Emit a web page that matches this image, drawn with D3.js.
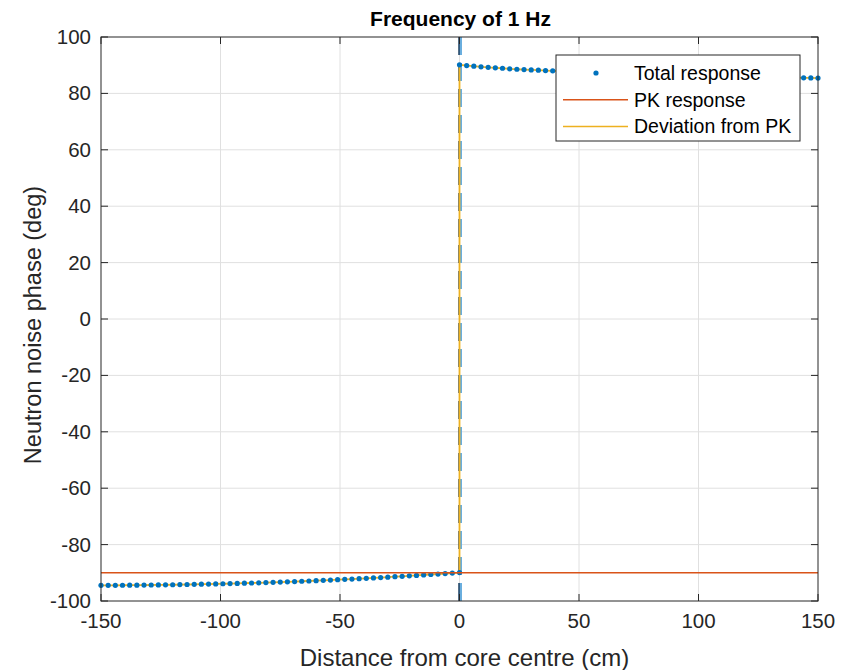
<!DOCTYPE html>
<html lang="en">
<head>
<meta charset="utf-8" />
<script src="https://cdn.jsdelivr.net/npm/d3@7"></script>
<style>
body { margin: 0; background: #fff; }
svg { font-family: "Liberation Sans", Arial, Helvetica, sans-serif; }
</style>
</head>
<body>
<svg id="chart" width="841" height="670"></svg>
<script>
// distance (cm) and phase (deg), left half of the core
var negX = [-150,-147,-144,-141,-138,-135,-132,-129,-126,-123,-120,-117,-114,-111,-108,-105,-102,-99,-96,-93,
  -90,-87,-84,-81,-78,-75,-72,-69,-66,-63,-60,-57,-54,-51,-48,-45,-42,-39,-36,-33,-30,-27,-24,-21,-18,-15,-12,-9,-6,-3,0];
var negPhase = [-94.45,-94.44,-94.43,-94.42,-94.40,-94.38,-94.36,-94.33,-94.30,-94.27,-94.23,-94.19,-94.15,-94.10,-94.05,-94.00,-93.95,-93.89,-93.83,-93.76,
  -93.69,-93.62,-93.54,-93.46,-93.38,-93.29,-93.20,-93.10,-93.00,-92.90,-92.79,-92.68,-92.57,-92.45,-92.33,-92.21,-92.08,-91.95,-91.82,-91.68,-91.54,-91.39,-91.24,-91.09,-90.93,-90.77,-90.61,-90.44,-90.27,-90.10,-89.93];

// right half of the core
var posX = [0,3,6,9,12,15,18,21,24,27,30,33,36,39,42,45,48,51,54,57,60,63,66,69,72,75,78,81,84,87,90,93,96,99,
  102,105,108,111,114,117,120,123,126,129,132,135,138,141,144,147,150];
var posPhase = [90.15,89.88,89.65,89.44,89.25,89.08,88.92,88.70,88.57,88.45,88.33,88.22,88.11,88.00,87.92,87.84,87.76,87.68,87.60,87.53,
  87.46,87.39,87.32,87.25,87.18,87.11,87.04,86.97,86.90,86.83,86.76,86.69,86.62,86.55,86.48,86.41,86.34,86.27,86.20,86.13,
  86.06,85.99,85.92,85.85,85.78,85.72,85.66,85.60,85.54,85.48,85.42];

// point kinetics response: constant phase
var pkX = [-150, 150];
var pkPhase = [-90, -90];

var xTicks = [-150, -100, -50, 0, 50, 100, 150];
var yTicks = [-100, -80, -60, -40, -20, 0, 20, 40, 60, 80, 100];
var legendNames = ["Total response", "PK response", "Deviation from PK"];

var svg = d3.select("#chart");
var pLeft = 101, pRight = 818, pTop = 37, pBottom = 601;

var x = d3.scaleLinear().domain([-150, 150]).range([pLeft, pRight]);
var y = d3.scaleLinear().domain([-100, 100]).range([pBottom, pTop]);

var blue = "#0072BD", orange = "#D95319", yellow = "#EDB120", axisCol = "#262626";

// grid
svg.append("g").selectAll("line").data(xTicks.slice(1, -1)).enter().append("line")
    .attr("x1", function(d) { return x(d); }).attr("x2", function(d) { return x(d); })
    .attr("y1", pTop).attr("y2", pBottom)
    .attr("stroke", "#e0e0e0").attr("stroke-width", 1);
svg.append("g").selectAll("line").data(yTicks.slice(1, -1)).enter().append("line")
    .attr("y1", function(d) { return y(d); }).attr("y2", function(d) { return y(d); })
    .attr("x1", pLeft).attr("x2", pRight)
    .attr("stroke", "#e0e0e0").attr("stroke-width", 1);

// dashed marker at the core centre
svg.append("line")
    .attr("x1", x(0) + 1).attr("x2", x(0) + 1).attr("y1", pTop).attr("y2", pBottom)
    .attr("stroke", "#6aaede").attr("stroke-width", 3).attr("stroke-dasharray", "18,8");
svg.append("line")
    .attr("x1", x(0) - 0.5).attr("x2", x(0) - 0.5).attr("y1", pTop).attr("y2", pBottom)
    .attr("stroke", "#1c3f60").attr("stroke-width", 1.5).attr("stroke-dasharray", "18,8");

var line = d3.line().x(function(d) { return x(d[0]); }).y(function(d) { return y(d[1]); });

var negPts = negX.map(function(v, i) { return [v, negPhase[i]]; });
var posPts = posX.map(function(v, i) { return [v, posPhase[i]]; });

// deviation from PK (yellow), continuous through the jump
svg.append("path")
    .datum(negPts.concat(posPts))
    .attr("d", line)
    .attr("fill", "none").attr("stroke", yellow).attr("stroke-width", 1.8);

// total response dots
svg.append("g").selectAll("circle").data(negPts.concat(posPts)).enter().append("circle")
    .attr("cx", function(d) { return x(d[0]); })
    .attr("cy", function(d) { return y(d[1]); })
    .attr("r", 2.6)
    .attr("fill", blue);

// PK response
svg.append("path")
    .datum(pkX.map(function(v, i) { return [v, pkPhase[i]]; }))
    .attr("d", line)
    .attr("fill", "none").attr("stroke", orange).attr("stroke-width", 1.5);

// axes box + ticks
svg.append("rect")
    .attr("x", pLeft).attr("y", pTop).attr("width", pRight - pLeft).attr("height", pBottom - pTop)
    .attr("fill", "none").attr("stroke", axisCol).attr("stroke-width", 1);

var tl = 7;
xTicks.forEach(function(t) {
  svg.append("line").attr("x1", x(t)).attr("x2", x(t)).attr("y1", pBottom).attr("y2", pBottom - tl).attr("stroke", axisCol);
  svg.append("line").attr("x1", x(t)).attr("x2", x(t)).attr("y1", pTop).attr("y2", pTop + tl).attr("stroke", axisCol);
});
yTicks.forEach(function(t) {
  svg.append("line").attr("y1", y(t)).attr("y2", y(t)).attr("x1", pLeft).attr("x2", pLeft + tl).attr("stroke", axisCol);
  svg.append("line").attr("y1", y(t)).attr("y2", y(t)).attr("x1", pRight).attr("x2", pRight - tl).attr("stroke", axisCol);
});

svg.append("g").selectAll("text").data(xTicks).enter().append("text")
    .attr("x", function(d) { return x(d); })
    .attr("y", 628)
    .attr("text-anchor", "middle")
    .attr("font-size", 20.5)
    .attr("fill", axisCol)
    .text(function(d) { return d; });

svg.append("g").selectAll("text").data(yTicks).enter().append("text")
    .attr("x", 91)
    .attr("y", function(d) { return y(d) + 7; })
    .attr("text-anchor", "end")
    .attr("font-size", 20.5)
    .attr("fill", axisCol)
    .text(function(d) { return d; });

// labels
svg.append("text")
    .attr("x", (pLeft + pRight) / 2 + 5).attr("y", 666)
    .attr("text-anchor", "middle").attr("font-size", 24).attr("fill", axisCol)
    .text("Distance from core centre (cm)");

svg.append("text")
    .attr("transform", "translate(41," + ((pTop + pBottom) / 2 + 6) + ") rotate(-90)")
    .attr("text-anchor", "middle").attr("font-size", 23.5).attr("fill", axisCol)
    .text("Neutron noise phase (deg)");

svg.append("text")
    .attr("x", (pLeft + pRight) / 2 + 1).attr("y", 26)
    .attr("text-anchor", "middle").attr("font-size", 21).attr("font-weight", "bold").attr("fill", "#000")
    .text("Frequency of 1 Hz");

// legend
var lg = svg.append("g").attr("transform", "translate(556,55)");
lg.append("rect").attr("width", 244).attr("height", 86)
    .attr("fill", "#fff").attr("stroke", axisCol).attr("stroke-width", 1);
legendNames.forEach(function(name, i) {
  var cy = 18 + i * 26.7;
  if (i === 0) {
    lg.append("circle").attr("cx", 40).attr("cy", cy).attr("r", 2.6).attr("fill", blue);
  } else {
    lg.append("line").attr("x1", 7).attr("x2", 72).attr("y1", cy).attr("y2", cy)
        .attr("stroke", i === 1 ? orange : yellow).attr("stroke-width", 1.5);
  }
  lg.append("text").attr("x", 78).attr("y", cy + 7)
      .attr("font-size", 19.5).attr("fill", "#000").text(name);
});
</script>
</body>
</html>
